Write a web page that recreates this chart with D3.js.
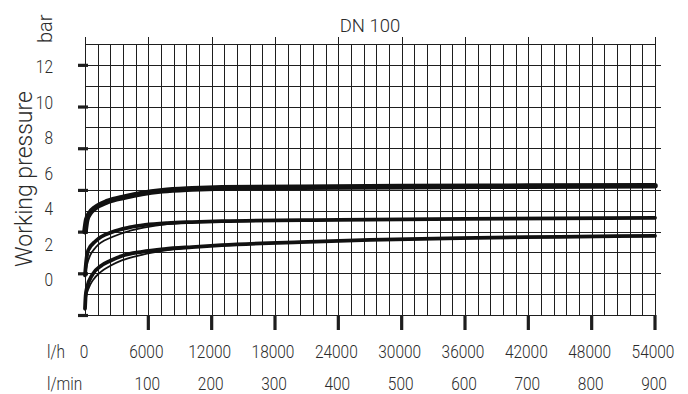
<!DOCTYPE html>
<html>
<head>
<meta charset="utf-8">
<script src="https://cdn.jsdelivr.net/npm/d3@7"></script>
<style>
  html, body { margin: 0; padding: 0; background: #fff; }
  svg { display: block; }
  text { font-family: Roboto, "Noto Sans", sans-serif; font-weight: 300; fill: #2b2b2b; }
</style>
</head>
<body>
<script>
// ---------- data ----------
const title = "DN 100";
const yTitle = "Working pressure";
const yUnit = "bar";
const yTicks = [0, 2, 4, 6, 8, 10, 12];            // labelled pressure values (bar)
const xTicksLmin = [100, 200, 300, 400, 500, 600, 700, 800, 900];
const xTicksLh = [0, 6000, 12000, 18000, 24000, 30000, 36000, 42000, 48000, 54000];
const xDomain = [0, 900];   // l/min
const yDomain = [0, 13];    // bar
const gridStepX = 20;       // l/min per grid column
const gridStepY = 1;        // bar per grid row

// flow (l/min), pressure (bar)
const curveHigh = [[0,4.0],[2.7,4.57],[8,4.9],[16,5.14],[36,5.45],[63,5.66],[90,5.83],[122,5.96],[169,6.05],[216,6.1],[340,6.13],[500,6.16],[700,6.18],[900,6.2]];
const curveMid = [[0,1.9],[2,2.6],[5,3.1],[17,3.55],[43,3.98],[70,4.2],[95,4.32],[130,4.41],[169,4.46],[216,4.5],[400,4.56],[600,4.61],[900,4.66]];
const curveMidLower = [[0,1.9],[3,2.4],[8,2.85],[17,3.25],[43,3.74],[70,4.03],[95,4.2],[130,4.36],[169,4.45]];
const curveLow = [[0,0.3],[1,0.9],[3,1.3],[12,1.95],[25,2.35],[40,2.6],[58,2.83],[90,3.03],[125,3.16],[169,3.26],[216,3.35],[340,3.5],[450,3.6],[592,3.69],[750,3.75],[900,3.8]];
const curveLowLower = [[0,0.3],[2,0.9],[6,1.3],[12,1.65],[25,2.07],[40,2.36],[58,2.62],[90,2.89],[125,3.09],[169,3.24]];

// ---------- layout ----------
const W = 688, H = 394;
const svg = d3.select("body").append("svg").attr("width", W).attr("height", H);
svg.append("rect").attr("width", W).attr("height", H).attr("fill", "#fff");

const x = d3.scaleLinear().domain(xDomain).range([85, 655]);
const y = d3.scaleLinear().domain(yDomain).range([315, 44]);
// the reference places its pressure labels on an evenly spaced column of its own
const yLab = d3.scaleLinear().domain([0, 12]).range([280, 67]);

const ink = "#1e1e1e";
const condensed = 0.86;   // the reference type is a narrow DIN-like face

// grid
const gx = d3.range(xDomain[0], xDomain[1] + 0.001, gridStepX);
const gy = d3.range(yDomain[0], yDomain[1] + 0.001, gridStepY);
const grid = svg.append("g").attr("stroke", ink).attr("stroke-width", 1.1).attr("shape-rendering", "crispEdges");
grid.selectAll(".v").data(gx).join("line")
  .attr("x1", d => Math.round(x(d)) + 0.5).attr("x2", d => Math.round(x(d)) + 0.5)
  .attr("y1", y(yDomain[1])).attr("y2", y(yDomain[0]));
grid.selectAll(".h").data(gy).join("line")
  .attr("y1", d => Math.round(y(d)) + 0.5).attr("y2", d => Math.round(y(d)) + 0.5)
  .attr("x1", x(xDomain[0])).attr("x2", x(xDomain[1]));

// top small ticks and right small ticks
const topT = [0].concat(xTicksLmin);
grid.selectAll(".tt").data(topT).join("line")
  .attr("x1", d => Math.round(x(d)) + 0.5).attr("x2", d => Math.round(x(d)) + 0.5)
  .attr("y1", y(yDomain[1]) - 7).attr("y2", y(yDomain[1]));
grid.selectAll(".rt").data(yTicks.filter(d => d > 0)).join("line")
  .attr("y1", d => Math.round(y(d)) + 0.5).attr("y2", d => Math.round(y(d)) + 0.5)
  .attr("x1", x(xDomain[1])).attr("x2", x(xDomain[1]) + 6);

// thick left ticks
svg.append("g").selectAll("line").data(yTicks).join("line")
  .attr("x1", x(0) - 7).attr("x2", x(0) + 3)
  .attr("y1", d => y(d) + 0.5).attr("y2", d => y(d) + 0.5)
  .attr("stroke", ink).attr("stroke-width", 3.2);
// thick bottom ticks
svg.append("g").selectAll("line").data(xTicksLmin).join("line")
  .attr("x1", d => x(d)).attr("x2", d => x(d))
  .attr("y1", y(0)).attr("y2", y(0) + 15)
  .attr("stroke", ink).attr("stroke-width", 3.2);

// curves
const line = d3.line().x(d => x(d[0])).y(d => y(d[1])).curve(d3.curveMonotoneX);
const curves = [
  { data: curveHigh, w: 5.6 },
  { data: curveMid, w: 3.8 },
  { data: curveMidLower, w: 1.8 },
  { data: curveLow, w: 3.8 },
  { data: curveLowLower, w: 1.8 }
];
svg.append("g").selectAll("path").data(curves).join("path")
  .attr("d", d => line(d.data))
  .attr("fill", "none").attr("stroke", "#111")
  .attr("stroke-width", d => d.w).attr("stroke-linecap", "round");

// helper for condensed labels placed at (px, py)
function label(g, px, py, anchor, size) {
  return g.attr("transform", `translate(${px},${py}) scale(${condensed},1)`)
    .attr("text-anchor", anchor).attr("font-size", size);
}

// y tick labels
svg.append("g").selectAll("text").data(yTicks).join("text")
  .each(function(d) { label(d3.select(this), 53, yLab(d), "end", 18); })
  .attr("dy", "0.36em").text(d => d);

// y title and unit
svg.append("text")
  .attr("transform", "translate(32,267) rotate(-90)")
  .attr("font-size", 23).text(yTitle);
svg.append("text")
  .attr("transform", "translate(52,43) rotate(-90)")
  .attr("font-size", 20).text(yUnit);

// title
svg.append("text").attr("x", 370).attr("y", 32).attr("text-anchor", "middle")
  .attr("font-size", 18.5).text(title);

// x labels: l/h row
label(svg.append("text"), 47, 358, "start", 18).text("l/h");
svg.append("g").selectAll("text").data(xTicksLh).join("text")
  .each(function(d) { label(d3.select(this), x(d / 60) - (d === 0 ? 1 : 2), 358, "middle", 18); })
  .text(d => d);
// l/min row
label(svg.append("text"), 47, 390, "start", 18).text("l/min");
svg.append("g").selectAll("text").data(xTicksLmin).join("text")
  .each(function(d) { label(d3.select(this), x(d) - 1, 390, "middle", 18); })
  .text(d => d);
</script>
</body>
</html>
